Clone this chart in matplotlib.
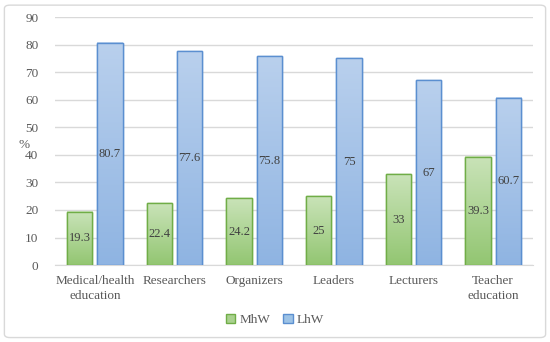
import numpy as np
import matplotlib
matplotlib.use("Agg")
import matplotlib.pyplot as plt
from matplotlib.colors import LinearSegmentedColormap
from matplotlib.patches import FancyBboxPatch

categories = ["Medical/health\neducation", "Researchers", "Organizers", "Leaders", "Lecturers", "Teacher\neducation"]
mhw = [19.3, 22.4, 24.2, 25, 33, 39.3]
lhw = [80.7, 77.6, 75.8, 75, 67, 60.7]
mhw_labels = ["19.3", "22.4", "24.2", "25", "33", "39.3"]
lhw_labels = ["80.7", "77.6", "75.8", "75", "67", "60.7"]

plt.rcParams["font.family"] = ["Liberation Serif", "DejaVu Serif"]
text_col = "#595959"

fig = plt.figure(figsize=(5.5, 3.42), dpi=100)
fig.patches.append(FancyBboxPatch((0.008, 0.013), 0.984, 0.972, boxstyle="round,pad=0,rounding_size=0.01",
                                  transform=fig.transFigure, facecolor="none", edgecolor="#d9d9d9", lw=1,
                                  zorder=-1))
ax = fig.add_axes([0.1, 0.225, 0.869, 0.725])

x = np.arange(len(categories))
w = 0.32
off = 0.19

green_cmap = LinearSegmentedColormap.from_list("g", ["#93c672", "#c9e3b8"])
blue_cmap = LinearSegmentedColormap.from_list("b", ["#8fb4e2", "#b9d0ed"])

gb = ax.bar(x - off, mhw, w, color="#a9d18e", edgecolor="#70ad47", lw=1, label="MhW", zorder=3)
bb = ax.bar(x + off, lhw, w, color="#9dc3e6", edgecolor="#5b8fd0", lw=1, label="LhW", zorder=3)

grad = np.linspace(0, 1, 100).reshape(-1, 1)
for bars, cmap in [(gb, green_cmap), (bb, blue_cmap)]:
    for p in bars:
        x0, y0 = p.get_x(), p.get_y()
        ax.imshow(grad, extent=[x0, x0 + p.get_width(), y0, y0 + p.get_height()], origin="lower",
                  cmap=cmap, aspect="auto", zorder=3.5)
        ax.add_patch(plt.Rectangle((x0, y0), p.get_width(), p.get_height(), fill=False,
                                   edgecolor=p.get_edgecolor(), lw=1, zorder=4))

for i in range(len(categories)):
    ax.text(x[i] - off, mhw[i] / 2, mhw_labels[i], ha="center", va="center", fontsize=9, color="#404040", zorder=5)
    ax.text(x[i] + off, lhw[i] / 2, lhw_labels[i], ha="center", va="center", fontsize=9, color="#404040", zorder=5)

ax.set_xlim(-0.5, len(categories) - 0.5)
ax.set_ylim(0, 90)
ax.set_yticks(range(0, 91, 10))
ax.set_xticks(x)
ax.set_xticklabels(categories, fontsize=9.5, color=text_col, linespacing=1.35)
ax.tick_params(axis="y", labelsize=9.5, colors=text_col, length=0, pad=12)
ax.tick_params(axis="x", length=0, pad=7)
ax.grid(axis="y", color="#d9d9d9", lw=1, zorder=0)
for s in ["top", "right", "left"]:
    ax.spines[s].set_visible(False)
ax.spines["bottom"].set_color("#d9d9d9")
ax.set_ylabel("%", fontsize=9.5, color=text_col, rotation=0)
ax.yaxis.set_label_coords(-0.065, 0.46)

leg = fig.legend(handles=[gb, bb], labels=["MhW", "LhW"], loc="center", bbox_to_anchor=(0.5, 0.065), ncol=2,
                 frameon=False, fontsize=9.5, handlelength=0.7, handleheight=0.7, handletextpad=0.3, columnspacing=1.0)
for t in leg.get_texts():
    t.set_color(text_col)

fig.savefig("out.png", dpi=100)
